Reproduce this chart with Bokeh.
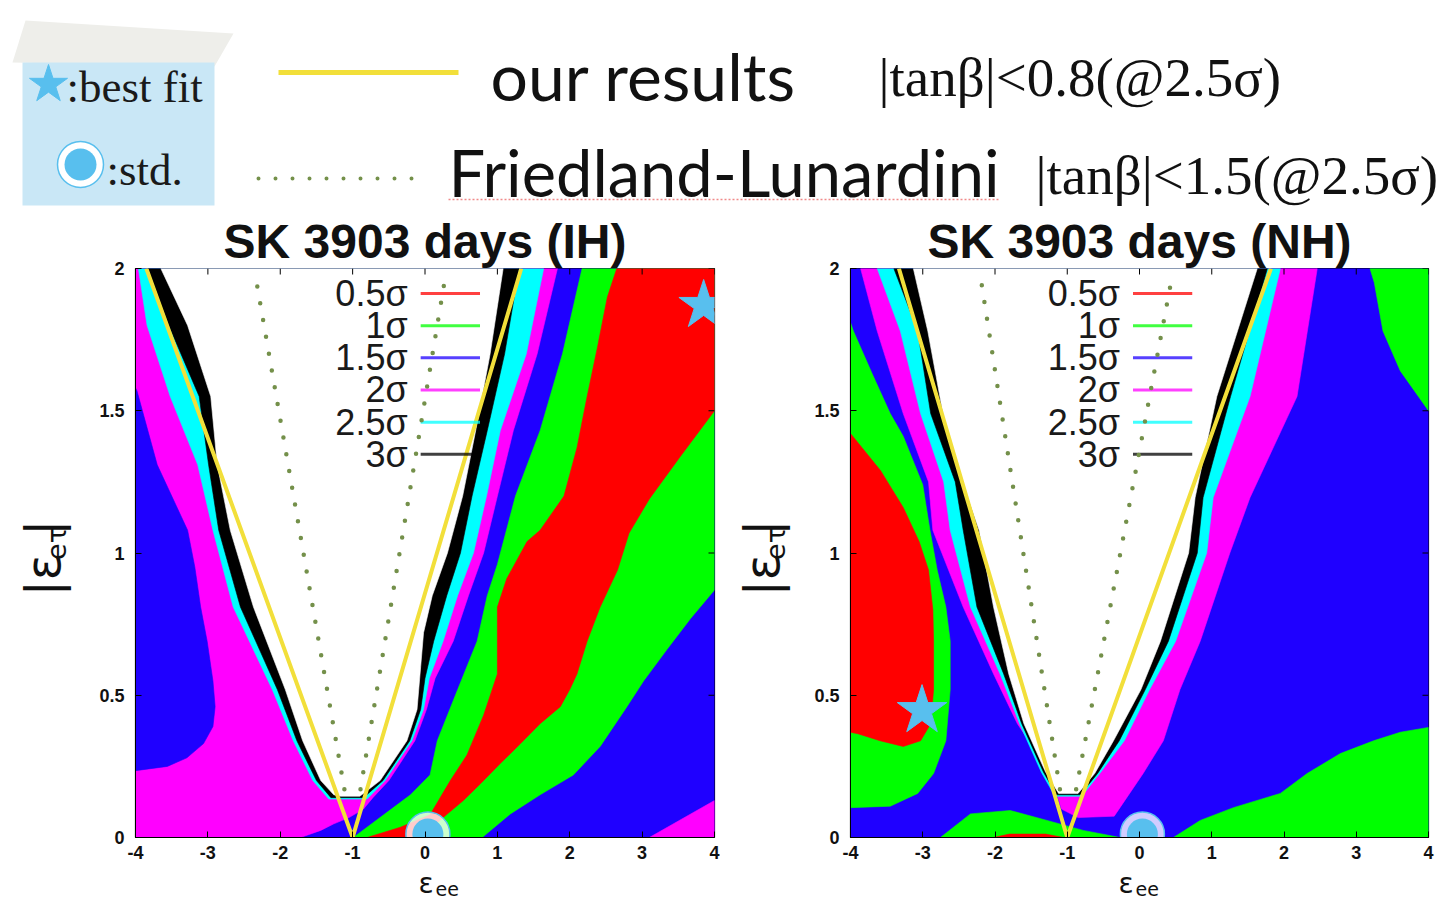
import numpy as np
from bokeh.plotting import figure
from bokeh.models import Range1d, FixedTicker, CustomJSTickFormatter
from bokeh.layouts import column, row
from bokeh.embed import file_html
from bokeh.resources import INLINE
from bokeh.core.properties import value

# ---------------- data ----------------
X_TICKS = [-4, -3, -2, -1, 0, 1, 2, 3, 4]
Y_TICKS = [0, 0.5, 1, 1.5, 2]
TITLES = ["SK 3903 days (IH)", "SK 3903 days (NH)"]
SIGMA_LABELS = ["0.5σ", "1σ", "1.5σ", "2σ", "2.5σ", "3σ"]

RED, GREEN, BLUE, MAGENTA, CYAN, BLACK, WHITE = "#ff0000", "#00ff00", "#1f00ff", "#ff00ff", "#00ffff", "#000000", "#ffffff"
SIGMA_COLORS = [RED, GREEN, BLUE, MAGENTA, CYAN, BLACK]
SKY = "#58bfee"
YELLOW = "#f2df3a"
OLIVE = "#74904a"

# ---- IH panel contour boundaries (eps_ee, |eps_etau|) ----
IH_WHITE_L = [(-3.65, 2.0), (-3.28, 1.80), (-2.96, 1.55), (-2.87, 1.31), (-2.69, 1.08), (-2.37, 0.81),
              (-1.93, 0.52), (-1.69, 0.34), (-1.44, 0.20), (-1.26, 0.15), (-1.17, 0.145)]
IH_WHITE_R = [(-0.90, 0.145), (-0.62, 0.20), (-0.25, 0.34), (-0.11, 0.45), (-0.06, 0.60), (-0.02, 0.72),
              (0.10, 0.85), (0.31, 1.0), (0.52, 1.2), (0.70, 1.43), (0.90, 1.70), (1.08, 2.0)]
IH_BLACK_L = [(-3.83, 2.0), (-3.54, 1.80), (-3.12, 1.55), (-2.99, 1.31), (-2.85, 1.08), (-2.55, 0.81),
              (-2.04, 0.52), (-1.77, 0.34), (-1.50, 0.20), (-1.30, 0.14)]
IH_BLACK_R = [(-0.85, 0.14), (-0.58, 0.20), (-0.21, 0.34), (-0.06, 0.45), (0.0, 0.56), (0.12, 0.69),
              (0.30, 0.85), (0.49, 1.0), (0.65, 1.2), (0.86, 1.43), (1.10, 1.70), (1.30, 2.0)]
IH_CYAN_L = [(-3.96, 2.0), (-3.84, 1.80), (-3.52, 1.55), (-3.14, 1.31), (-2.93, 1.08), (-2.65, 0.81),
             (-2.11, 0.52), (-1.82, 0.34), (-1.55, 0.20), (-1.33, 0.135)]
IH_CYAN_R = [(-0.80, 0.135), (-0.55, 0.20), (-0.18, 0.34), (-0.02, 0.45), (0.06, 0.56), (0.25, 0.69),
             (0.45, 0.85), (0.67, 1.0), (0.85, 1.2), (1.04, 1.43), (1.40, 1.70), (1.64, 2.0)]
IH_MAG_R = [(-1.72, 0.0), (-1.44, 0.025), (-1.26, 0.048), (-1.05, 0.07), (-0.85, 0.10), (-0.72, 0.14),
            (-0.50, 0.20), (-0.14, 0.34), (0.02, 0.45), (0.14, 0.56), (0.39, 0.69), (0.60, 0.85),
            (0.81, 1.0), (1.0, 1.2), (1.22, 1.43), (1.55, 1.70), (1.83, 2.0)]
IH_BLUE_BLOB = [(-4.0, 1.58), (-3.98, 1.57), (-3.70, 1.31), (-3.28, 1.08), (-3.18, 0.95), (-3.10, 0.81),
                (-3.01, 0.69), (-2.93, 0.55), (-2.90, 0.46), (-2.93, 0.39), (-3.06, 0.33), (-3.29, 0.28),
                (-3.56, 0.25), (-4.0, 0.235)]
IH_GREEN_L = [(-0.99, 0.0), (-0.57, 0.08), (-0.20, 0.15), (0.07, 0.22), (0.17, 0.34), (0.42, 0.50),
              (0.72, 0.69), (0.86, 0.85), (1.0, 0.96), (1.25, 1.2), (1.59, 1.43), (1.90, 1.70), (2.17, 2.0)]
IH_GREEN_LOW = [(0.79, 0.0), (1.18, 0.083), (1.59, 0.15), (2.05, 0.22), (2.42, 0.32), (2.79, 0.46),
                (3.02, 0.55), (3.34, 0.66), (3.67, 0.77), (4.0, 0.87)]
IH_RED_L = [(-0.80, 0.0), (-0.34, 0.036), (0.07, 0.08), (0.35, 0.20), (0.58, 0.29), (0.81, 0.43),
            (1.0, 0.575), (1.0, 0.81), (1.13, 0.91), (1.41, 1.04), (1.59, 1.08), (1.92, 1.20),
            (2.10, 1.37), (2.24, 1.55), (2.38, 1.72), (2.52, 1.90), (2.65, 2.0)]
IH_RED_R = [(4.0, 1.50), (3.53, 1.34), (3.1, 1.19), (2.82, 1.07), (2.66, 0.94), (2.42, 0.81), (2.24, 0.69),
            (2.10, 0.575), (2.0, 0.52), (1.87, 0.46), (1.59, 0.40), (1.32, 0.33), (1.04, 0.26),
            (0.77, 0.19), (0.53, 0.13), (0.25, 0.07), (0.07, 0.03), (0.0, 0.0)]
IH_MAG_CORNER = [(3.1, 0.0), (4.0, 0.0), (4.0, 0.13)]

# ---- NH panel contour boundaries ----
NH_WHITE_L = [(-3.13, 2.0), (-2.93, 1.78), (-2.72, 1.49), (-2.45, 1.25), (-2.22, 1.08), (-2.02, 0.81),
              (-1.81, 0.575), (-1.60, 0.40), (-1.30, 0.23), (-1.12, 0.155)]
NH_WHITE_R = [(-0.85, 0.155), (-0.62, 0.225), (-0.36, 0.34), (0.02, 0.52), (0.29, 0.69), (0.68, 1.0),
              (0.77, 1.195), (1.07, 1.55), (1.63, 2.0)]
NH_BLACK_L = [(-3.40, 2.0), (-3.07, 1.78), (-2.89, 1.49), (-2.55, 1.25), (-2.44, 1.08), (-2.25, 0.81),
              (-1.88, 0.575), (-1.63, 0.40), (-1.33, 0.23), (-1.15, 0.15)]
NH_BLACK_R = [(-0.82, 0.15), (-0.58, 0.225), (-0.28, 0.34), (0.08, 0.52), (0.40, 0.69), (0.80, 1.0),
              (0.88, 1.195), (1.26, 1.55), (1.77, 2.0)]
NH_CYAN_L = [(-3.63, 2.0), (-3.31, 1.78), (-3.03, 1.49), (-2.71, 1.25), (-2.62, 1.08), (-2.34, 0.81),
             (-1.93, 0.575), (-1.66, 0.40), (-1.36, 0.23), (-1.17, 0.145)]
NH_CYAN_R = [(-0.80, 0.145), (-0.55, 0.225), (-0.21, 0.34), (0.14, 0.52), (0.50, 0.69), (0.93, 1.0),
             (1.02, 1.195), (1.53, 1.55), (1.95, 2.0)]
NH_MAG_L = [(-3.86, 2.0), (-3.63, 1.78), (-3.27, 1.49), (-2.92, 1.25), (-2.86, 1.08), (-2.44, 0.81),
            (-2.02, 0.575), (-1.69, 0.40), (-1.23, 0.225), (-1.08, 0.10), (-0.85, 0.07)]
NH_MAG_R = [(-0.35, 0.075), (-0.27, 0.105), (0.05, 0.225), (0.33, 0.34), (0.56, 0.52), (0.84, 0.69),
            (1.25, 1.0), (1.53, 1.195), (2.18, 1.55), (2.46, 2.0)]
NH_GREEN_L = [(-4.0, 0.105), (-3.45, 0.11), (-3.07, 0.155), (-2.85, 0.225), (-2.68, 0.34), (-2.62, 0.52),
              (-2.62, 0.69), (-2.68, 0.81), (-2.80, 0.94), (-2.90, 1.08), (-3.0, 1.24), (-3.27, 1.41),
              (-3.45, 1.49), (-3.70, 1.63), (-3.96, 1.78), (-4.0, 1.81)]
NH_RED_BLOB = [(-4.0, 1.42), (-3.585, 1.29), (-3.27, 1.16), (-3.05, 1.04), (-2.92, 0.94), (-2.86, 0.80),
               (-2.85, 0.69), (-2.85, 0.52), (-2.89, 0.40), (-3.03, 0.34), (-3.27, 0.32), (-3.59, 0.34),
               (-3.90, 0.365), (-4.0, 0.37)]
NH_GREEN_LENS = [(-2.755, 0.0), (-2.34, 0.083), (-1.79, 0.095), (-1.28, 0.06), (-0.78, 0.025), (-0.27, 0.0)]
NH_RED_STRIP = [(-2.02, 0.0), (-1.05, 0.0), (-1.3, 0.012), (-1.8, 0.012)]
NH_GREEN_TR = [(3.19, 2.0), (4.0, 2.0), (4.0, 1.50), (3.61, 1.64), (3.37, 1.78), (3.25, 1.95)]
NH_GREEN_BR = [(0.47, 0.0), (0.84, 0.06), (1.30, 0.105), (1.95, 0.155), (2.32, 0.225), (2.78, 0.295),
               (3.24, 0.34), (3.61, 0.37), (4.0, 0.387), (4.0, 0.0)]

FULL = [(-4.0, 0.0), (4.0, 0.0), (4.0, 2.0), (-4.0, 2.0)]

IH_LAYERS = [
    (BLUE, FULL),
    (MAGENTA, [(-4.0, 2.0), (-4.0, 0.0)] + IH_MAG_R),
    (BLUE, IH_BLUE_BLOB),
    (CYAN, IH_CYAN_L + IH_CYAN_R),
    (BLACK, IH_BLACK_L + IH_BLACK_R),
    (WHITE, IH_WHITE_L + IH_WHITE_R),
    (GREEN, IH_GREEN_L + [(4.0, 2.0)] + IH_GREEN_LOW[::-1]),
    (RED, IH_RED_L + [(4.0, 2.0)] + IH_RED_R),
    (MAGENTA, IH_MAG_CORNER),
]
NH_LAYERS = [
    (BLUE, FULL),
    (GREEN, NH_GREEN_L),
    (RED, NH_RED_BLOB),
    (GREEN, NH_GREEN_TR),
    (GREEN, NH_GREEN_BR),
    (MAGENTA, NH_MAG_L + NH_MAG_R),
    (GREEN, NH_GREEN_LENS),
    (RED, NH_RED_STRIP),
    (CYAN, NH_CYAN_L + NH_CYAN_R),
    (BLACK, NH_BLACK_L + NH_BLACK_R),
    (WHITE, NH_WHITE_L + NH_WHITE_R),
]

# limit lines: apex and top ends
APEX = (-1.0, 0.0)
IH_YELLOW_TOPS = [-3.85, 1.33]
NH_YELLOW_TOPS = [-3.33, 1.82]
IH_DOTTED_TOPS = [-2.34, 0.28]
NH_DOTTED_TOPS = [-2.20, 0.45]
IH_BEST = (3.85, 1.87)
NH_BEST = (-3.01, 0.446)
STD_POINT = (0.04, 0.012)

INK = "#111111"
HEADER_H = 211
BOTTOM_H = 33
PANEL_H = 900 - HEADER_H - BOTTOM_H


def make_panel(title, layers, yellow_tops, dotted_tops, best, width, mbl, mbr, leg_tx):
    p = figure(width=width, height=PANEL_H, x_range=Range1d(-4, 4), y_range=Range1d(0, 2),
               output_backend="svg", toolbar_location=None, title=title,
               min_border_left=mbl, min_border_right=mbr, min_border_top=268 - HEADER_H, min_border_bottom=30)
    p.grid.visible = False
    p.outline_line_color = "black"
    p.outline_line_width = 1.2
    p.background_fill_color = "white"
    p.border_fill_color = "white"

    p.title.align = "center"
    p.title.text_font = "Liberation Sans"
    p.title.text_font_style = "bold"
    p.title.text_font_size = "48px"
    p.title.text_color = INK
    p.title.standoff = 2
    p.title.offset = 0

    fmt = CustomJSTickFormatter(code="return tick.toString()")
    p.xaxis.ticker = FixedTicker(ticks=X_TICKS)
    p.yaxis.ticker = FixedTicker(ticks=Y_TICKS)
    p.xaxis.formatter = fmt
    p.yaxis.formatter = fmt
    for ax in (p.xaxis[0], p.yaxis[0]):
        ax.major_label_text_font = "Liberation Sans"
        ax.major_label_text_font_style = "bold"
        ax.major_label_text_font_size = "18px"
        ax.major_label_text_color = INK
        ax.major_tick_in = 6
        ax.major_tick_out = 0
        ax.minor_tick_in = 0
        ax.minor_tick_out = 0
        ax.axis_line_color = "black"
        ax.major_tick_line_color = "black"
    p.xaxis[0].major_label_standoff = 8
    p.yaxis[0].major_label_standoff = 11

    for color, pts in layers:
        p.patch([q[0] for q in pts], [q[1] for q in pts], fill_color=color,
                line_color=color, line_width=0.6)

    # inward ticks on the top and right edges (mirrors of the axes)
    ty = 2.0 - 6.0 * 2.0 / 569.0
    tx = 4.0 - 6.0 * 8.0 / 579.0
    p.segment(x0=X_TICKS, y0=[2.0] * len(X_TICKS), x1=X_TICKS, y1=[ty] * len(X_TICKS),
              line_color="black", line_width=1)
    p.segment(x0=[4.0] * len(Y_TICKS), y0=Y_TICKS, x1=[tx] * len(Y_TICKS), y1=Y_TICKS,
              line_color="black", line_width=1)

    # yellow V (our results)
    p.line([yellow_tops[0], APEX[0], yellow_tops[1]], [2.0, APEX[1], 2.0],
           line_color=YELLOW, line_width=4)

    # legend inside panel
    rows_y = [1.912 - 0.113 * k for k in range(len(SIGMA_LABELS))]
    p.segment(x0=[leg_tx + 0.18] * 6, y0=rows_y, x1=[leg_tx + 1.0] * 6, y1=rows_y,
              line_color=SIGMA_COLORS, line_width=3, line_alpha=0.75)
    p.text(x=[leg_tx] * 6, y=rows_y, text=SIGMA_LABELS, text_align="right", text_baseline="middle",
           text_font=value("Liberation Sans"), text_font_size="36px", text_color="#1a1a1a")

    # Friedland-Lunardini dotted V
    y0 = 0.17
    for xt in dotted_tops:
        xs0 = APEX[0] + (xt - APEX[0]) * y0 / 2.0
        p.line([xs0, xt], [y0, 1.97], line_color=OLIVE, line_width=4.5,
               line_dash="0 17", line_cap="round")

    # best fit star, standard point
    p.scatter([best[0]], [best[1]], marker="star", size=52, fill_color=SKY, line_color=SKY)
    p.scatter([STD_POINT[0]], [STD_POINT[1]], marker="circle", size=44, fill_color="white", fill_alpha=0.8,
              line_color=SKY, line_width=1.5)
    p.scatter([STD_POINT[0]], [STD_POINT[1]], marker="circle", size=31, fill_color=SKY, line_color=None)
    return p


def make_strip(width, height, x0, x1, ytop, ybottom):
    s = figure(width=width, height=height, x_range=Range1d(x0, x1), y_range=Range1d(ybottom, ytop),
               output_backend="svg", toolbar_location=None, x_axis_location=None, y_axis_location=None,
               min_border=0, title=None)
    s.grid.visible = False
    s.outline_line_color = None
    s.background_fill_color = "white"
    s.border_fill_color = "white"
    return s


def ylabel_strip(mid_x):
    s = make_strip(80, PANEL_H, 0, 80, HEADER_H, 900 - BOTTOM_H)
    common = dict(angle=np.pi / 2, text_align="left", text_baseline="middle",
                  text_font=value("DejaVu Sans"), text_color=INK)
    s.text([mid_x], [589], ["|ε"], text_font_size="48px", **common)
    s.text([mid_x + 14], [547], ["eτ"], text_font_size="27px", **common)
    s.text([mid_x], [519], ["|"], text_font_size="48px", **common)
    return s


p1 = make_panel(TITLES[0], IH_LAYERS, IH_YELLOW_TOPS, IH_DOTTED_TOPS, IH_BEST,
                width=640, mbl=55, mbr=6, leg_tx=-0.24)
p2 = make_panel(TITLES[1], NH_LAYERS, NH_YELLOW_TOPS, NH_DOTTED_TOPS, NH_BEST,
                width=645, mbl=50, mbr=17, leg_tx=-0.27)
yl1 = ylabel_strip(42)
yl2 = ylabel_strip(41)

# bottom strip with the x-axis labels eps_ee
bot = make_strip(1445, BOTTOM_H, 0, 1445, 900 - BOTTOM_H, 900)
bot.text([418, 1118], [883, 883], ["ε", "ε"], text_font=value("DejaVu Sans"), text_font_size="28px",
         text_baseline="middle", text_color=INK)
bot.text([435, 1135], [888, 888], ["ee", "ee"], text_font=value("DejaVu Sans"), text_font_size="19px",
         text_baseline="middle", text_color=INK)

# ---------------- header legend ----------------
h = make_strip(1445, HEADER_H, 0, 1445, 0, HEADER_H)
h.patch([25, 233, 214, 12], [20, 33, 66, 62], fill_color="#eeeeea", line_color=None)
h.quad(left=[22], right=[214], top=[62], bottom=[205], fill_color="#c9e7f6", line_color=None)
h.scatter([48], [84], marker="star", size=40, fill_color=SKY, line_color=SKY)
h.text([66], [86], [":best fit"], text_font=value("Liberation Serif"), text_font_size="45px",
       text_baseline="middle", text_color="#1a1a1a")
h.scatter([80], [164], marker="circle", size=46, fill_color="white", line_color=SKY, line_width=1.5)
h.scatter([80], [164], marker="circle", size=32, fill_color=SKY, line_color=None)
h.text([106], [169], [":std."], text_font=value("Liberation Serif"), text_font_size="45px",
       text_baseline="middle", text_color="#1a1a1a")
h.line([278, 458], [72, 72], line_color=YELLOW, line_width=5)
h.text([490], [75], ["our results"], text_font=value("Lato"), text_font_size="66px",
       text_baseline="middle", text_color=INK)
h.text([878], [77], ["|tanβ|<0.8(@2.5σ)"], text_font=value("Liberation Serif"), text_font_size="55px",
       text_baseline="middle", text_color=INK)
h.line([258, 425], [178, 178], line_color=OLIVE, line_width=4, line_dash="0 17", line_cap="round")
h.text([448], [171], ["Friedland-Lunardini"], text_font=value("Lato"), text_font_size="65px",
       text_baseline="middle", text_color=INK)
h.line([448, 1000], [199, 199], line_color="#f08a8a", line_width=1.5, line_dash="2 2")
h.text([1035], [175], ["|tanβ|<1.5(@2.5σ)"], text_font=value("Liberation Serif"), text_font_size="55px",
       text_baseline="middle", text_color=INK)

layout = column(h, row(yl1, p1, yl2, p2), bot)
open("out.html", "w").write(file_html(layout, INLINE))
